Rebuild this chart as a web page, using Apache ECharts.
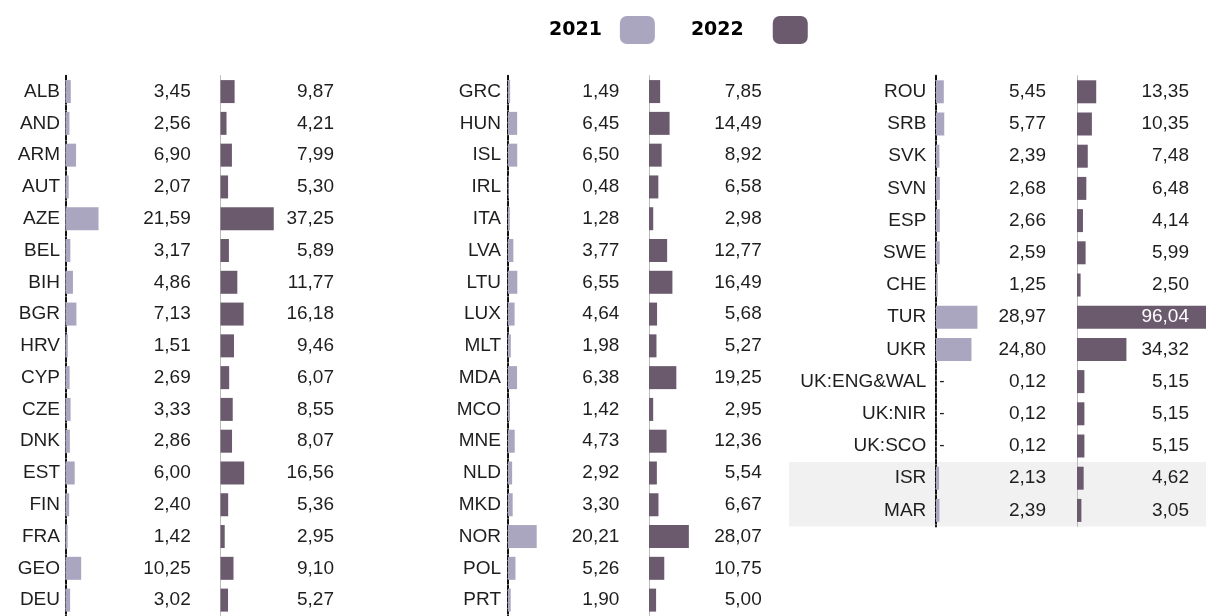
<!DOCTYPE html>
<html>
<head>
<meta charset="utf-8">
<script src="https://cdn.jsdelivr.net/npm/echarts@6/dist/echarts.min.js"></script>
<style>
  html, body { margin: 0; padding: 0; background: #fff; }
  #chart { width: 1206px; height: 616px; }
</style>
</head>
<body>
<div id="chart"></div>
<script>
// data, one block per column of the table
const countriesA = ['ALB', 'AND', 'ARM', 'AUT', 'AZE', 'BEL', 'BIH', 'BGR', 'HRV', 'CYP', 'CZE', 'DNK', 'EST', 'FIN', 'FRA', 'GEO', 'DEU']
const values2021A = [3.45, 2.56, 6.90, 2.07, 21.59, 3.17, 4.86, 7.13, 1.51, 2.69, 3.33, 2.86, 6.00, 2.40, 1.42, 10.25, 3.02]
const values2022A = [9.87, 4.21, 7.99, 5.30, 37.25, 5.89, 11.77, 16.18, 9.46, 6.07, 8.55, 8.07, 16.56, 5.36, 2.95, 9.10, 5.27]

const countriesB = ['GRC', 'HUN', 'ISL', 'IRL', 'ITA', 'LVA', 'LTU', 'LUX', 'MLT', 'MDA', 'MCO', 'MNE', 'NLD', 'MKD', 'NOR', 'POL', 'PRT']
const values2021B = [1.49, 6.45, 6.50, 0.48, 1.28, 3.77, 6.55, 4.64, 1.98, 6.38, 1.42, 4.73, 2.92, 3.30, 20.21, 5.26, 1.90]
const values2022B = [7.85, 14.49, 8.92, 6.58, 2.98, 12.77, 16.49, 5.68, 5.27, 19.25, 2.95, 12.36, 5.54, 6.67, 28.07, 10.75, 5.00]

const countriesC = ['ROU', 'SRB', 'SVK', 'SVN', 'ESP', 'SWE', 'CHE', 'TUR', 'UKR', 'UK:ENG&WAL', 'UK:NIR', 'UK:SCO', 'ISR', 'MAR']
const values2021C = [5.45, 5.77, 2.39, 2.68, 2.66, 2.59, 1.25, 28.97, 24.80, 0.12, 0.12, 0.12, 2.13, 2.39]
const values2022C = [13.35, 10.35, 7.48, 6.48, 4.14, 5.99, 2.50, 96.04, 34.32, 5.15, 5.15, 5.15, 4.62, 3.05]

// rows shaded grey in the last column
const shadedC = ['ISR', 'MAR']

const years = ['2021', '2022']

const COLOR_21 = '#aaa6c0'
const COLOR_22 = '#6b5a6e'
const FONT = 'Liberation Sans'
const TEXT = '#1e1e1e'
const ROW = 32.2
const TOP = 75.7

const fmt = v => v.toFixed(2).replace('.', ',')

// pixel layout of each column: axis line, bar start, label end, px per unit
const columns = [
  { names: countriesA, v21: values2021A, v22: values2022A,
    line21: 63, left21: 65.5, end21: 190.7, scale21: 1.53, nameGap: 3,
    line22: 218.3, left22: 220.5, end22: 334, scale22: 1.43 },
  { names: countriesB, v21: values2021B, v22: values2022B,
    line21: 506, left21: 508, end21: 619.3, scale21: 1.42, nameGap: 5,
    line22: 646.7, left22: 649, end22: 761.7, scale22: 1.42 },
  { names: countriesC, v21: values2021C, v22: values2022C,
    line21: 934.3, left21: 936, end21: 1046, scale21: 1.43, nameGap: 8,
    line22: 1074.5, left22: 1077, end22: 1189, scale22: 1.44 }
]

const grid = []
const xAxis = []
const yAxis = []
const series = []

columns.forEach((col, i) => {
  const height = col.names.length * ROW
  const parts = [
    { year: '2021', vals: col.v21, line: col.line21, left: col.left21, end: col.end21, scale: col.scale21, color: COLOR_21 },
    { year: '2022', vals: col.v22, line: col.line22, left: col.left22, end: col.end22, scale: col.scale22, color: COLOR_22 }
  ]
  parts.forEach((p, j) => {
    const g = grid.length
    const width = p.end - p.left
    grid.push({ left: p.left, top: TOP, width: width, height: height })
    xAxis.push({ type: 'value', gridIndex: g, min: 0, max: width / p.scale, show: false })
    // left axis: country names (2021) or plain grey line (2022)
    yAxis.push({
      type: 'category', gridIndex: g, data: col.names, inverse: true,
      position: 'left', offset: p.left - p.line, z: 1,
      axisLine: {
        show: true,
        lineStyle: j === 0
          ? { color: '#111', width: 2, type: [4, 2] }
          : { color: '#bbb', width: 1 }
      },
      axisTick: { show: false },
      axisLabel: {
        show: j === 0, interval: 0, margin: col.nameGap,
        color: TEXT, fontFamily: FONT, fontSize: 19,
        padding: [3, 0, 0, 0]
      },
      splitLine: { show: false }
    })
    // right axis: value labels, right aligned at the column edge
    const vals = p.vals
    yAxis.push({
      type: 'category', gridIndex: g, data: col.names, inverse: true,
      position: 'right', z: 3,
      axisLine: { show: false },
      axisTick: { show: false },
      axisLabel: {
        inside: true, interval: 0, margin: 0, align: 'right',
        fontFamily: FONT, fontSize: 19,
        padding: [3, 0, 0, 0],
        formatter: (v, idx) => fmt(vals[idx]),
        color: (v, idx) => vals[idx] > width / p.scale ? '#ffffff' : TEXT
      },
      splitLine: { show: false }
    })
    series.push({
      name: p.year, type: 'bar',
      xAxisIndex: g, yAxisIndex: yAxis.length - 2,
      data: vals, barWidth: 23, clip: false,
      itemStyle: { color: p.color },
      label: {
        show: true, position: 'right', distance: 3,
        color: TEXT, fontFamily: FONT, fontSize: 16,
        formatter: d => d.value < 0.2 ? '-' : ''
      },
      silent: true
    })
  })
})

// grey band behind the last rows of the third column
const bandGrid = grid.length
grid.push({ left: 789, right: 0, top: TOP, height: countriesC.length * ROW })
xAxis.push({ type: 'value', gridIndex: bandGrid, show: false })
yAxis.push({
  type: 'category', gridIndex: bandGrid, data: countriesC, inverse: true, z: 0,
  axisLine: { show: false }, axisTick: { show: false }, axisLabel: { show: false },
  splitLine: { show: false },
  splitArea: {
    show: true, interval: 0,
    areaStyle: { color: countriesC.map(c => shadedC.includes(c) ? '#f1f1f1' : 'rgba(0,0,0,0)') }
  }
})

const option = {
  animation: false,
  backgroundColor: '#fff',
  legend: {
    data: [
      { name: years[0], textStyle: { padding: [0, 13, 0, 0] } },
      { name: years[1], textStyle: { padding: [0, 24, 0, 0] } }
    ],
    left: 549, top: 16, padding: 0,
    align: 'right', itemGap: 36,
    itemWidth: 35, itemHeight: 28,
    icon: 'roundRect',
    selectedMode: false,
    textStyle: {
      color: '#000', fontFamily: 'DejaVu Sans', fontWeight: 'bold', fontSize: 19
    }
  },
  grid, xAxis, yAxis, series
}

const chart = echarts.init(document.getElementById('chart'))
chart.setOption(option)
</script>
</body>
</html>
